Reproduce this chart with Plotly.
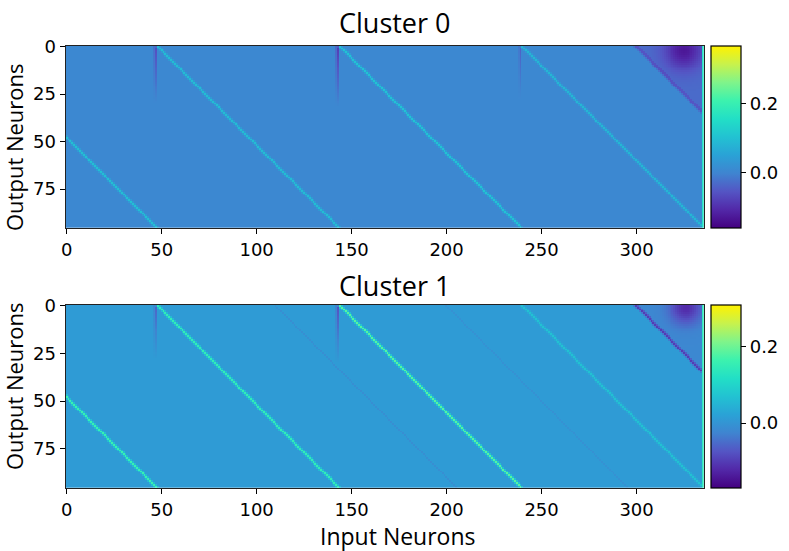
import numpy as np
import plotly.graph_objects as go

# matrix size (output x input neurons)
n_out = 96
n_in = 336

x_ticks = [0, 50, 100, 150, 200, 250, 300]
y_ticks = [0, 25, 50, 75]
cbar_ticks = [0.0, 0.2]
cbar_labels = ["0.0", "0.2"]

titles = ["Cluster 0", "Cluster 1"]
z_min = [-0.162, -0.170]
z_max = [0.368, 0.310]

# values, cluster 0
c0_background = 0.004
c0_diag_offsets = [-48, 48, 144, 240]
c0_diag_values = [0.095, 0.090, 0.100, 0.080]
c0_faint_offsets = []
c0_faint_values = []
c0_dark_cols = [47, 143, 239]
c0_dark_col_values = [-0.07, -0.09, -0.05]
c0_dark_col_rows = [30, 32, 28]
c0_corner_offset = 300
c0_corner_line = -0.06
c0_corner_fill = -0.035
c0_spot_col, c0_spot_row, c0_spot_value, c0_spot_size = 325, 2, -0.10, 7
c0_last_col = 0.16

# cluster 1
c1_background = 0.010
c1_diag_offsets = [-48, 48, 144, 240]
c1_diag_values = [0.150, 0.140, 0.175, 0.060]
c1_faint_offsets = [110, 200]
c1_faint_values = [-0.02, -0.015]
c1_dark_cols = [47, 143]
c1_dark_col_values = [-0.07, -0.09]
c1_dark_col_rows = [28, 30]
c1_corner_offset = 300
c1_corner_line = -0.11
c1_corner_fill = -0.03
c1_spot_col, c1_spot_row, c1_spot_value, c1_spot_size = 326, 1, -0.10, 6
c1_last_col = 0.14

# custom saturated viridis-like colormap
cmap = [
    [0.00, "#440080"],
    [0.10, "#5228a8"],
    [0.20, "#5455c4"],
    [0.30, "#3f84d0"],
    [0.40, "#2aa2d6"],
    [0.50, "#22c2d2"],
    [0.60, "#22dfc6"],
    [0.70, "#3cf2ae"],
    [0.80, "#80f48a"],
    [0.90, "#c8f24c"],
    [1.00, "#fff200"],
]


def build(bg, offs, vals, f_offs, f_vals, dcols, dvals, drows,
          c_off, c_line, c_fill, sp_c, sp_r, sp_v, sp_s, last):
    r = np.arange(n_out)[:, None]
    c = np.arange(n_in)[None, :]
    d = c - r
    z = np.full((n_out, n_in), bg, dtype=float)
    for o, v in zip(offs, vals):
        z[d == o] = bg + v
        z[np.abs(d - o) == 1] += 0.35 * v
    for o, v in zip(f_offs, f_vals):
        z[d == o] += v
    for col, v, rows in zip(dcols, dvals, drows):
        fade = np.clip(1 - np.arange(n_out) / rows, 0, 1)
        z[:, col] += v * fade
        z[:, col - 1] += 0.4 * v * fade
    tri = d > c_off
    z[tri] += c_fill
    z[d == c_off] += c_line
    z[np.abs(d - c_off) == 1] += 0.4 * c_line
    spot = np.exp(-((c - sp_c) ** 2 + (r - sp_r) ** 2) / (2 * sp_s ** 2))
    z += np.where(d >= c_off - 1, sp_v * spot, 0)
    z[:, n_in - 1] = last
    return z


z0 = build(c0_background, c0_diag_offsets, c0_diag_values, c0_faint_offsets, c0_faint_values,
           c0_dark_cols, c0_dark_col_values, c0_dark_col_rows,
           c0_corner_offset, c0_corner_line, c0_corner_fill,
           c0_spot_col, c0_spot_row, c0_spot_value, c0_spot_size, c0_last_col)
z1 = build(c1_background, c1_diag_offsets, c1_diag_values, c1_faint_offsets, c1_faint_values,
           c1_dark_cols, c1_dark_col_values, c1_dark_col_rows,
           c1_corner_offset, c1_corner_line, c1_corner_fill,
           c1_spot_col, c1_spot_row, c1_spot_value, c1_spot_size, c1_last_col)

W, H = 789, 551
ML, MR, MT, MB = 50, 60, 40, 50
PW, PH = W - ML - MR, H - MT - MB


def fx(px):
    return (px - ML) / PW


def fy(py):
    return 1 - (py - MT) / PH


x_dom = [fx(65.7), fx(704)]
y_doms = [[fy(228), fy(45.7)], [fy(488), fy(304.7)]]

tick_font = dict(family="DejaVu Sans", size=18, color="black")

fig = go.Figure()
for i, z in enumerate([z0, z1]):
    dom = y_doms[i]
    fig.add_trace(go.Heatmap(
        z=z, x=list(range(n_in)), y=list(range(n_out)),
        zmin=z_min[i], zmax=z_max[i], colorscale=cmap, zsmooth=False,
        xaxis="x" if i == 0 else "x2", yaxis="y" if i == 0 else "y2",
        hoverinfo="skip",
        colorbar=dict(
            x=fx(711), xanchor="left", xpad=0, ypad=0,
            y=(dom[0] + dom[1]) / 2, yanchor="middle",
            len=dom[1] - dom[0], lenmode="fraction", thickness=30,
            outlinewidth=1.2, outlinecolor="black",
            tickvals=cbar_ticks, ticktext=cbar_labels, ticks="outside",
            ticklen=5, tickcolor="black", tickfont=tick_font,
        ),
    ))

axis_common = dict(
    showgrid=False, zeroline=False, showline=True, mirror=True, automargin=False,
    linecolor="#222", linewidth=1.3, ticks="outside", ticklen=5,
    tickcolor="black", tickfont=tick_font,
)
fig.update_layout(
    width=W, height=H, margin=dict(l=ML, r=MR, t=MT, b=MB, autoexpand=False),
    paper_bgcolor="white", plot_bgcolor="white", showlegend=False,
    xaxis=dict(domain=x_dom, anchor="y", range=[-0.5, n_in - 0.5], tickvals=x_ticks, **axis_common),
    yaxis=dict(domain=y_doms[0], anchor="x", range=[n_out - 0.5, -0.5], tickvals=y_ticks, **axis_common),
    xaxis2=dict(domain=x_dom, anchor="y2", range=[-0.5, n_in - 0.5], tickvals=x_ticks, **axis_common),
    yaxis2=dict(domain=y_doms[1], anchor="x2", range=[n_out - 0.5, -0.5], tickvals=y_ticks, **axis_common),
)

title_font = dict(family="Open Sans", size=27, color="black")
label_font = dict(family="Open Sans", size=22, color="black")
notes = [
    dict(text=titles[0], x=fx(395), y=fy(23), font=title_font),
    dict(text=titles[1], x=fx(395), y=fy(285), font=title_font),
    dict(text="Input Neurons", x=fx(398), y=fy(536), font=dict(family="Open Sans", size=23, color="black")),
    dict(text="Output Neurons", x=fx(14), y=fy(147), font=label_font, textangle=-90),
    dict(text="Output Neurons", x=fx(14), y=fy(386), font=label_font, textangle=-90),
]
for n in notes:
    fig.add_annotation(xref="paper", yref="paper", showarrow=False,
                       xanchor="center", yanchor="middle", **n)

# the page body has a default 8px margin; drop it so the figure sits at the corner
fig.write_html("out.html", config={"displayModeBar": False},
               post_script="document.body.style.margin='0';document.body.style.overflow='hidden';")
